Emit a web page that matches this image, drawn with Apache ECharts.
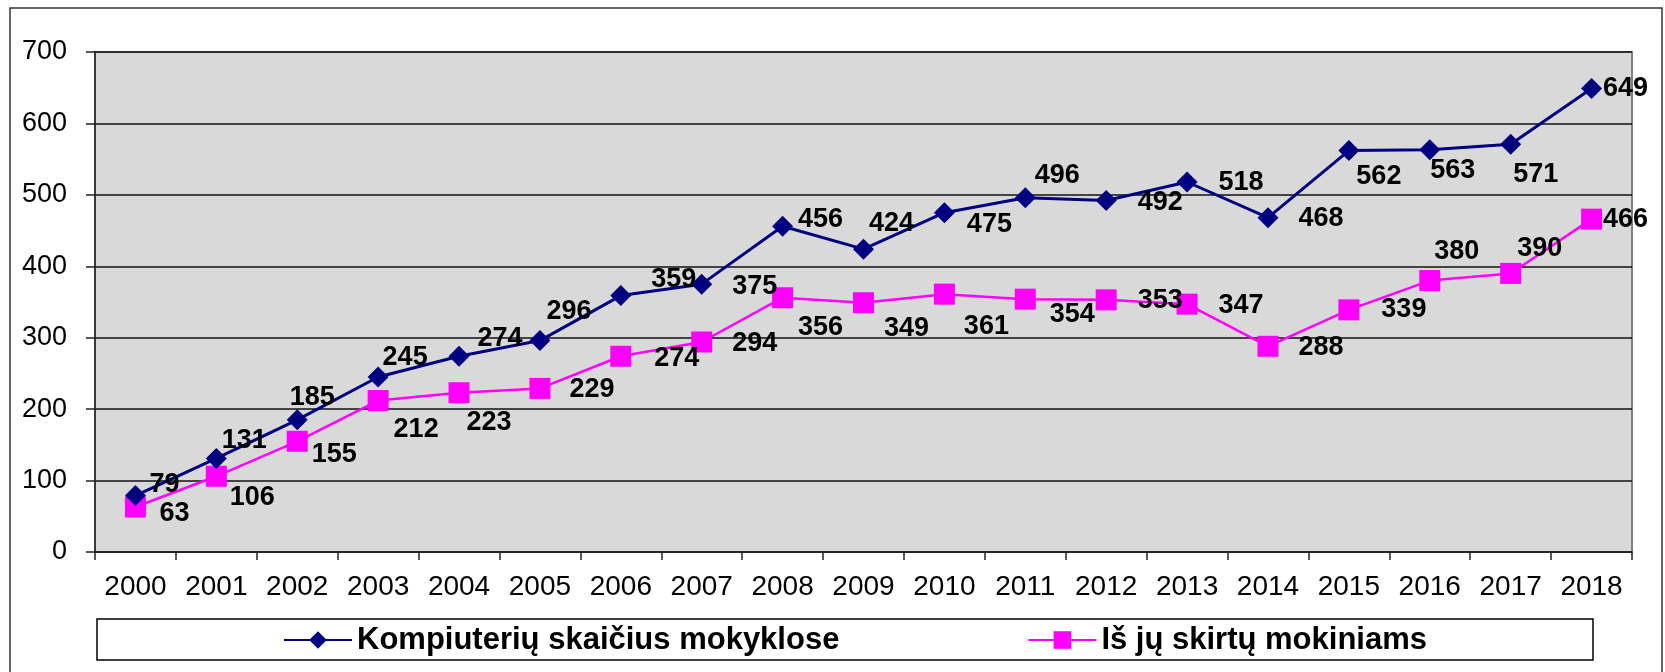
<!DOCTYPE html>
<html>
<head>
<meta charset="utf-8">
<script src="https://cdn.jsdelivr.net/npm/echarts@6/dist/echarts.min.js"></script>
<style>
html,body{margin:0;padding:0;background:#fff;}
#chart{width:1665px;height:672px;}
</style>
</head>
<body>
<div id="chart"></div>
<script>
// metai
var years = ['2000','2001','2002','2003','2004','2005','2006','2007','2008','2009',
             '2010','2011','2012','2013','2014','2015','2016','2017','2018'];
// Kompiuterių skaičius mokyklose
var computers = [79,131,185,245,274,296,359,375,456,424,475,496,492,518,468,562,563,571,649];
// Iš jų skirtų mokiniams
var forStudents = [63,106,155,212,223,229,274,294,356,349,361,354,353,347,288,339,380,390,466];
var yTicks = [0,100,200,300,400,500,600,700];

// label offsets (px) from the marker, like the hand placed labels in the original
var compLabelOff = [[29,-11],[28,-18],[15,-22],[27,-19],[41,-18],[29,-29],[53,-16],[53,2],[38,-7],[28,-26],
                    [45,12],[32,-22],[54,2],[54,1],[53,1],[30,26],[23,21],[25,30],[34,0]];
var studLabelOff = [[39,7],[36,21],[37,13],[38,29],[30,30],[52,1],[56,2],[53,2],[38,30],[43,26],
                    [42,32],[47,15],[54,1],[54,1],[53,1],[55,0],[27,-29],[29,-25],[34,0]];

var FONT = "'Liberation Sans', Arial, sans-serif";

function withLabels(vals, offs){
    var out = [];
    for(var i=0;i<vals.length;i++){
        out.push({value: vals[i], label: {offset: offs[i]}});
    }
    return out;
}

var myChart = echarts.init(document.getElementById('chart'));
myChart.setOption({
    animation: false,
    backgroundColor: '#fff',
    textStyle: {fontFamily: FONT},
    grid: {
        left: 95, top: 52, right: 33, bottom: 120,
        show: true,
        backgroundColor: '#D9D9D9',
        borderColor: '#808080',
        borderWidth: 2
    },
    graphic: [
        {type:'rect', shape:{x:10,y:8,width:1652,height:700}, style:{fill:null, stroke:'#333', lineWidth:1.5}, silent:true, z:-1},
        {type:'rect', shape:{x:97,y:619,width:1496,height:41}, style:{fill:'#fff', stroke:'#000', lineWidth:1.5}, silent:true, z:-1}
    ],
    legend: {
        left: 283, top: 623,
        padding: 0,
        itemWidth: 68, itemHeight: 22,
        itemGap: 188,
        textStyle: {fontSize: 31, fontWeight: 'bold', color: '#000', fontFamily: FONT, lineHeight: 34},
        data: ['Kompiuterių skaičius mokyklose', 'Iš jų skirtų mokiniams']
    },
    xAxis: {
        type: 'category',
        data: years,
        boundaryGap: true,
        axisLine: {show: true, lineStyle: {color: '#222', width: 1.5}},
        axisTick: {show: true, length: 8, lineStyle: {color: '#222', width: 1.5}},
        axisLabel: {interval: 0, fontSize: 28, lineHeight: 28, margin: 21, color: '#000', fontFamily: FONT},
        splitLine: {show: false}
    },
    yAxis: {
        type: 'value',
        min: yTicks[0], max: yTicks[yTicks.length-1], interval: 100,
        axisLine: {show: true, lineStyle: {color: '#222', width: 1.5}},
        axisTick: {show: true, length: 9, lineStyle: {color: '#222', width: 1.5}},
        axisLabel: {fontSize: 27, margin: 28, color: '#000', fontFamily: FONT},
        splitLine: {show: true, lineStyle: {color: '#111', width: 1.5}}
    },
    series: [
        {
            name: 'Kompiuterių skaičius mokyklose',
            type: 'line',
            data: withLabels(computers, compLabelOff),
            symbol: 'diamond',
            symbolSize: 21,
            color: '#000080',
            lineStyle: {color: '#000080', width: 3},
            itemStyle: {color: '#000080'},
            label: {show: true, position: 'inside', fontSize: 27, fontWeight: 'bold', color: '#000',
                    fontFamily: FONT, align: 'center', verticalAlign: 'middle'},
            z: 3
        },
        {
            name: 'Iš jų skirtų mokiniams',
            type: 'line',
            data: withLabels(forStudents, studLabelOff),
            symbol: 'rect',
            symbolSize: 21,
            color: '#FF00FF',
            lineStyle: {color: '#FF00FF', width: 2.5},
            itemStyle: {color: '#FF00FF'},
            label: {show: true, position: 'inside', fontSize: 27, fontWeight: 'bold', color: '#000',
                    fontFamily: FONT, align: 'center', verticalAlign: 'middle'},
            z: 2
        }
    ]
});
</script>
</body>
</html>
